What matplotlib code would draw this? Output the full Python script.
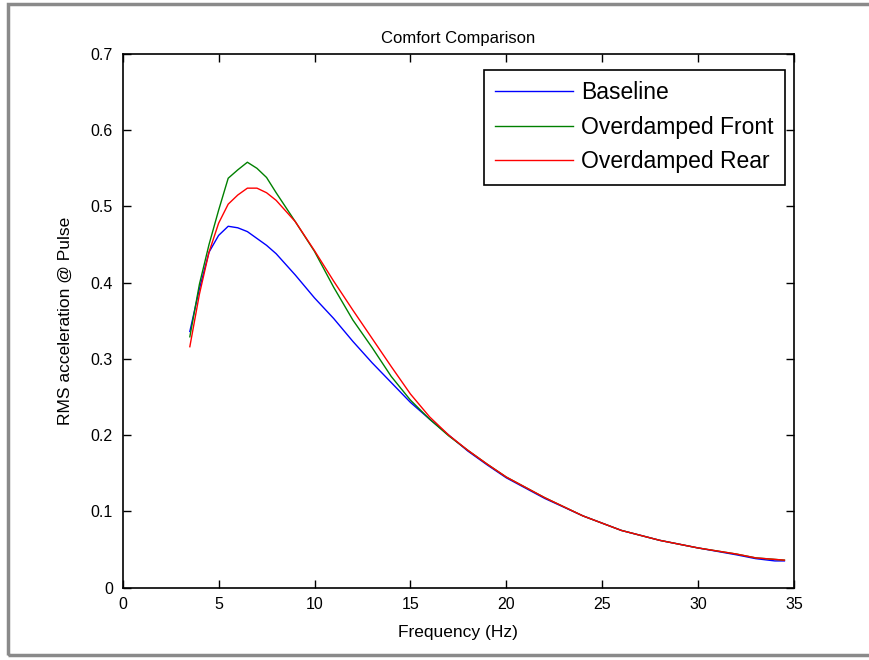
import matplotlib
matplotlib.use('Agg')
import matplotlib.pyplot as plt
from matplotlib.patches import Rectangle

plt.rcParams['font.family'] = ['Liberation Sans', 'DejaVu Sans']

freq = [3.5, 4.0, 4.5, 5.0, 5.5, 6.0, 6.5, 7.0, 7.5, 8.0, 9.0, 10.0, 11.0, 12.0,
        13.0, 14.0, 15.0, 16.0, 17.0, 18.0, 19.0, 20.0, 22.0, 24.0, 26.0, 28.0,
        30.0, 32.0, 33.0, 34.0, 34.5]

baseline = [0.336, 0.392, 0.440, 0.462, 0.474, 0.472, 0.467, 0.458, 0.449, 0.438,
            0.410, 0.380, 0.353, 0.323, 0.295, 0.269, 0.243, 0.221, 0.200, 0.179,
            0.161, 0.144, 0.117, 0.094, 0.075, 0.062, 0.052, 0.043, 0.038, 0.035, 0.035]

front = [0.329, 0.398, 0.450, 0.495, 0.537, 0.548, 0.558, 0.550, 0.538, 0.518,
         0.480, 0.441, 0.394, 0.351, 0.315, 0.277, 0.246, 0.221, 0.199, 0.180,
         0.162, 0.145, 0.118, 0.094, 0.075, 0.062, 0.052, 0.044, 0.039, 0.037, 0.036]

rear = [0.316, 0.385, 0.440, 0.478, 0.503, 0.515, 0.524, 0.524, 0.518, 0.508,
        0.480, 0.442, 0.402, 0.364, 0.327, 0.290, 0.254, 0.224, 0.200, 0.180,
        0.162, 0.145, 0.118, 0.094, 0.075, 0.062, 0.052, 0.044, 0.039, 0.037, 0.036]

labels = ['Baseline', 'Overdamped Front', 'Overdamped Rear']

fig = plt.figure(figsize=(8.69, 6.60), dpi=100)
ax = fig.add_axes([0.1412, 0.1097, 0.7725, 0.8085])

ax.plot(freq, baseline, c=(0, 0, 1), lw=1.0, label=labels[0])
ax.plot(freq, front, c=(0, 0.5, 0), lw=1.0, label=labels[1])
ax.plot(freq, rear, c=(1, 0, 0), lw=1.0, label=labels[2])

ax.set_xlim(0, 35)
ax.set_ylim(0, 0.7)
ax.set_xticks(range(0, 36, 5))
ax.set_yticks([0, 0.1, 0.2, 0.3, 0.4, 0.5, 0.6, 0.7])
ax.set_yticklabels(['0', '0.1', '0.2', '0.3', '0.4', '0.5', '0.6', '0.7'])
ax.tick_params(direction='in', top=True, right=True, length=6, width=1.0,
               labelsize=11.5, pad=7)
for s in ax.spines.values():
    s.set_linewidth(1.2)

ax.set_title('Comfort Comparison', fontsize=12, pad=8)
ax.set_xlabel('Frequency (Hz)', fontsize=12.5, labelpad=9)
ax.set_ylabel('RMS acceleration @ Pulse', fontsize=12.5, labelpad=13)

leg = ax.legend(loc='upper right', bbox_to_anchor=(0.9866, 0.970), borderaxespad=0,
                fontsize=16.5, handlelength=3.4, handletextpad=0.35, labelspacing=0.5,
                borderpad=0.5, fancybox=False, framealpha=1, edgecolor='k')
leg.get_frame().set_linewidth(1.2)

fig.add_artist(Rectangle((8 / 869, 5 / 660), 1.0, 651 / 660, transform=fig.transFigure,
                         fill=False, edgecolor='#8a8a8a', lw=2.5))

fig.savefig('out.png', dpi=100, facecolor='white')
